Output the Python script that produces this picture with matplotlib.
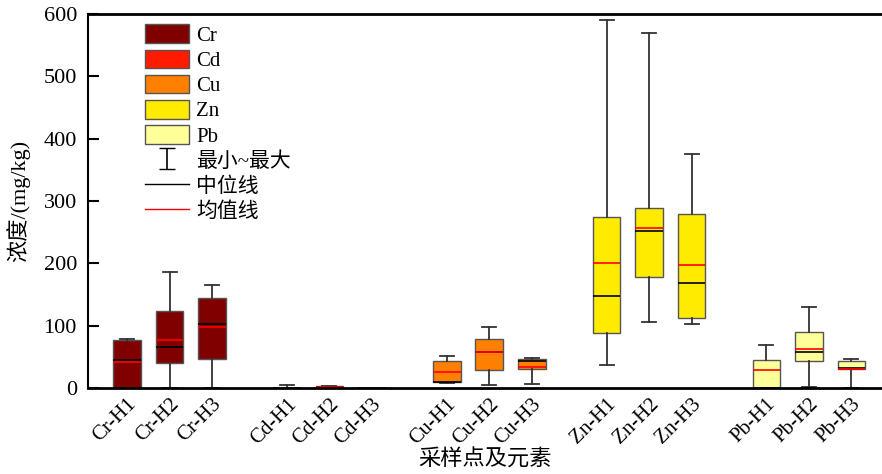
import numpy as np
import matplotlib
matplotlib.use("Agg")
import matplotlib.pyplot as plt
from matplotlib.patches import Patch
from matplotlib.lines import Line2D

plt.rcParams["font.family"] = ["Liberation Serif", "Noto Sans CJK SC"]
plt.rcParams["font.size"] = 15
plt.rcParams["axes.unicode_minus"] = False

# ---------- Data (mg/kg) ----------
ELEMENTS = ["Cr", "Cd", "Cu", "Zn", "Pb"]
SITES = ["H1", "H2", "H3"]
COLORS = ["#800000", "#FF1A00", "#FF8000", "#FFEB00", "#FFFF99"]

# one row per element, one value per site
q1 = [[0, 40, 46], [0, 0.5, 0], [10, 29, 30], [89, 178, 113], [0, 43, 30]]
med = [[45, 65, 103], [0.2, 1.5, 0.1], [9, 58, 43], [148, 252, 168], [0, 58, 32]]
q3 = [[77, 123, 144], [0.4, 2.5, 0.2], [44, 79, 46.5], [275, 289, 279], [45, 90, 43]]
mean = [[41, 77, 98], [0.5, 2.0, 0.1], [25, 58, 34], [200, 257, 198], [29, 62, 31]]
wmin = [[0, 0, 0], [0, 0, 0], [8.5, 5, 6.5], [37, 106, 102], [0, 1.5, 0.5]]
wmax = [[79, 186, 165], [5.5, 3.5, 0.4], [51, 98, 48.6], [591, 570, 375], [69, 130, 46]]

GROUP_STEP = 3.76
BOX_W = 0.65

# ---------- Plot ----------
fig = plt.figure(figsize=(8.82, 4.74), dpi=100)
ax = fig.add_axes([0.0998, 0.1814, 0.9002, 0.7891])

positions, labels = [], []
for g, el in enumerate(ELEMENTS):
    stats = []
    pos = []
    for j, site in enumerate(SITES):
        stats.append(dict(q1=q1[g][j], med=med[g][j], q3=q3[g][j], mean=mean[g][j],
                          whislo=wmin[g][j], whishi=wmax[g][j], fliers=[]))
        pos.append(g * GROUP_STEP + j)
        labels.append(f"{el}-{site}")
    positions += pos
    ax.bxp(stats, positions=pos, widths=BOX_W, patch_artist=True,
           showmeans=True, meanline=True, capwidths=0.33,
           boxprops=dict(facecolor=COLORS[g], edgecolor="#555555", linewidth=1),
           medianprops=dict(color="black", linewidth=1.2),
           meanprops=dict(color="red", linewidth=1.2, linestyle="-"),
           whiskerprops=dict(color="#333333", linewidth=1.3),
           capprops=dict(color="#333333", linewidth=1.3),
           manage_ticks=False)

ax.set_xticks(positions)
ax.set_xticklabels(labels, rotation=45, ha="right", va="top", rotation_mode="anchor")
ax.tick_params(axis="x", length=0, pad=5, labelsize=15)
ax.tick_params(axis="y", direction="in", length=8, width=1.5, pad=8, labelsize=16)

ax.set_xlim(-0.918, 17.76)
ax.set_ylim(0, 600)
ax.set_yticks(range(0, 601, 100))

ax.spines["right"].set_visible(False)
ax.spines["top"].set_linewidth(2)
ax.spines["bottom"].set_linewidth(2)
ax.spines["left"].set_linewidth(1.5)

ax.set_ylabel("浓度/(mg/kg)", fontsize=16, labelpad=10)
ax.set_xlabel("采样点及元素", fontsize=16, labelpad=1)

# ---------- Legend ----------
handles = [Patch(facecolor=c, edgecolor="#555555", linewidth=1) for c in COLORS]
eb = ax.errorbar([np.nan], [np.nan], yerr=[1], fmt="none", ecolor="black",
                 elinewidth=1.2, capsize=6)
handles += [eb,
            Line2D([], [], color="black", linewidth=1),
            Line2D([], [], color="red", linewidth=1)]
legend_labels = ELEMENTS + ["最小~最大", "中位线", "均值线"]
ax.legend(handles, legend_labels, loc="upper left", bbox_to_anchor=(0.059, 1.0),
          frameon=False, fontsize=15, handlelength=2.1, handleheight=1.0,
          labelspacing=0.18, handletextpad=0.35, borderaxespad=0.1)

fig.savefig("out.png", dpi=100)
plt.close(fig)
